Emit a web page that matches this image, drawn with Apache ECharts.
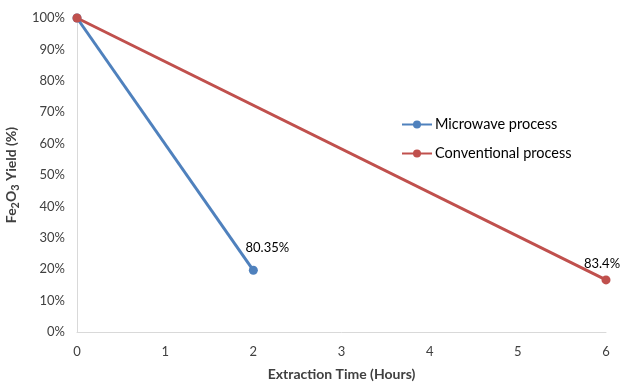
<!DOCTYPE html>
<html>
<head>
<meta charset="utf-8">
<script src="https://cdn.jsdelivr.net/npm/echarts@6/dist/echarts.min.js"></script>
<style>
  html, body { margin: 0; padding: 0; background: #fff; }
  #chart { width: 621px; height: 383px; }
</style>
</head>
<body>
<div id="chart"></div>
<script>
// Extraction time (hours) and remaining Fe2O3 yield (%)
const microwaveHours = [0, 2];
const microwaveYield = [100, 19.65];
const conventionalHours = [0, 6];
const conventionalYield = [100, 16.6];
const yTicks = [0, 10, 20, 30, 40, 50, 60, 70, 80, 90, 100];
const xTicks = [0, 1, 2, 3, 4, 5, 6];

// Extracted share shown at the final point = 100 - remaining yield
function extractedLabel(v) {
  const e = Math.round((100 - v) * 100) / 100;
  return e + '%';
}

const font = 'Lato, "Open Sans", sans-serif';
const chart = echarts.init(document.getElementById('chart'));

function pairs(xs, ys) { return xs.map((x, i) => [x, ys[i]]); }

chart.setOption({
  animation: false,
  textStyle: { fontFamily: font },
  grid: { left: 77, right: 15, top: 18, bottom: 51, containLabel: false, outerBoundsMode: 'none' },
  legend: {
    orient: 'vertical',
    left: 396, top: 112,
    itemGap: 14,
    itemWidth: 30, itemHeight: 10,
    textStyle: { fontFamily: font, fontSize: 14.5, color: '#000', padding: [0, 0, 0, -2] },
    data: ['Microwave process', 'Conventional process']
  },
  xAxis: {
    type: 'value', min: 0, max: 6, interval: 1,
    name: 'Extraction Time (Hours)',
    nameLocation: 'middle', nameGap: 35,
    nameTextStyle: { fontFamily: font, fontSize: 14, fontWeight: 'bold', color: '#404040' },
    axisLine: { lineStyle: { color: '#d9d9d9', width: 1 } },
    axisTick: { show: false },
    splitLine: { show: false },
    axisLabel: { fontSize: 13, color: '#404040', margin: 13,
      formatter: v => xTicks.includes(v) ? String(v) : '' }
  },
  yAxis: {
    type: 'value', min: 0, max: 100, interval: 10,
    name: '{b|Fe}{s|2}{b|O}{s|3}{b| Yield (%)}',
    nameLocation: 'middle', nameGap: 46,
    nameTextStyle: {
      rich: {
        b: { fontFamily: font, fontSize: 14, fontWeight: 'bold', color: '#404040', verticalAlign: 'bottom', lineHeight: 18 },
        s: { fontFamily: font, fontSize: 11, fontWeight: 'bold', color: '#404040', verticalAlign: 'bottom', lineHeight: 12, padding: [0, 0, -3, 0] }
      }
    },
    axisLine: { show: true, lineStyle: { color: '#d9d9d9', width: 1 } },
    axisTick: { show: false },
    splitLine: { show: false },
    axisLabel: { fontSize: 13, color: '#404040', margin: 12,
      formatter: v => yTicks.includes(v) ? v + '%' : '' }
  },
  series: [
    {
      name: 'Microwave process', type: 'line',
      data: pairs(microwaveHours, microwaveYield),
      symbol: 'circle', symbolSize: 9,
      itemStyle: { color: '#4f81bd' },
      lineStyle: { color: '#4f81bd', width: 3 },
      label: {
        show: true, position: 'top', offset: [14, -6],
        fontFamily: font, fontSize: 13, color: '#000',
        formatter: p => p.dataIndex === microwaveYield.length - 1 ? extractedLabel(p.value[1]) : ''
      }
    },
    {
      name: 'Conventional process', type: 'line',
      data: pairs(conventionalHours, conventionalYield),
      symbol: 'circle', symbolSize: 9,
      itemStyle: { color: '#c0504d' },
      lineStyle: { color: '#c0504d', width: 3 },
      label: {
        show: true, position: 'top', offset: [-4, 0],
        fontFamily: font, fontSize: 13, color: '#000',
        formatter: p => p.dataIndex === conventionalYield.length - 1 ? extractedLabel(p.value[1]) : ''
      }
    }
  ]
});
</script>
</body>
</html>
